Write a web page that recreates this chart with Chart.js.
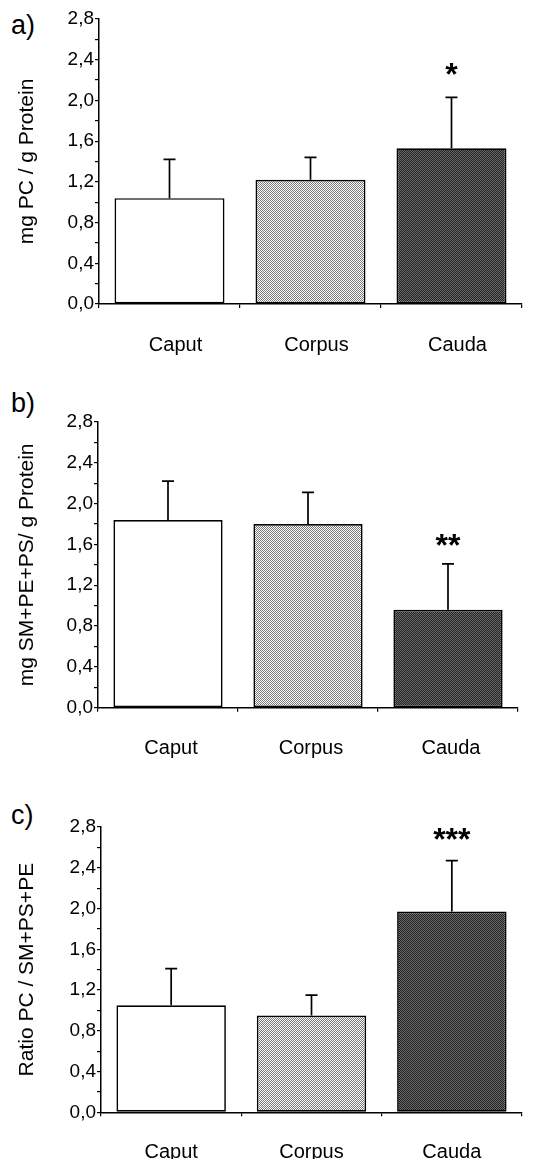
<!DOCTYPE html>
<html>
<head>
<meta charset="utf-8">
<script src="https://cdn.jsdelivr.net/npm/chart.js@4.4.1/dist/chart.umd.min.js"></script>
<style>
  body { margin: 0; background: #fff; width: 535px; height: 1159px; position: relative; overflow: hidden; }
  .panel { position: absolute; left: 0; }
  .tag { position: absolute; left: 11px; font: 27px "Liberation Sans", Arial, sans-serif; color: #000; line-height: 27px; }
</style>
</head>
<body>
<div class="tag" style="top:12px">a)</div>
<div class="tag" style="top:390px">b)</div>
<div class="tag" style="top:802px">c)</div>
<canvas id="chart-a" class="panel" width="535" height="370" style="top:0px"></canvas>
<canvas id="chart-b" class="panel" width="535" height="375" style="top:400px"></canvas>
<canvas id="chart-c" class="panel" width="535" height="354" style="top:805px"></canvas>
<script>
// داده‌ها
const categories = ['Caput', 'Corpus', 'Cauda'];

const pcMean = [1.04, 1.22, 1.53];
const pcSd = [0.38, 0.22, 0.50];
const pcSig = ['', '', '*'];

const smMean = [1.84, 1.80, 0.96];
const smSd = [0.38, 0.31, 0.45];
const smSig = ['', '', '**'];

const ratioMean = [1.05, 0.95, 1.97];
const ratioSd = [0.36, 0.20, 0.50];
const ratioSig = ['', '', '***'];

const yMax = 2.8;
const yStep = 0.2;

const FONT = '"Liberation Sans", Arial, sans-serif';

// الگوی نقطه‌ای برای میله‌ها
function dotPattern(c1, c2) {
    const tile = document.createElement('canvas');
    tile.width = 2; tile.height = 2;
    const t = tile.getContext('2d');
    t.fillStyle = c1; t.fillRect(0, 0, 2, 2);
    t.fillStyle = c2; t.fillRect(0, 0, 1, 1); t.fillRect(1, 1, 1, 1);
    return t.createPattern(tile, 'repeat');
}
const fills = ['#ffffff', dotPattern('#ffffff', '#777777'), dotPattern('#222222', '#6a6a6a')];

// خطای بالا + ستاره‌ها
const errorBars = {
    id: 'errorBars',
    afterDatasetsDraw(chart) {
        const { ctx, scales: { y } } = chart;
        const meta = chart.getDatasetMeta(0);
        const o = chart.options.plugins.errorBars;
        ctx.save();
        ctx.strokeStyle = '#000';
        ctx.lineWidth = 1.7;
        meta.data.forEach((bar, i) => {
            const top = y.getPixelForValue(o.mean[i] + o.sd[i]);
            ctx.beginPath();
            ctx.moveTo(bar.x, bar.y);
            ctx.lineTo(bar.x, top);
            ctx.moveTo(bar.x - 6, top);
            ctx.lineTo(bar.x + 6, top);
            ctx.stroke();
            if (o.sig[i]) {
                ctx.fillStyle = '#000';
                ctx.font = 'bold 32px ' + FONT;
                ctx.textAlign = 'center';
                ctx.textBaseline = 'alphabetic';
                ctx.fillText(o.sig[i], bar.x, top - o.gap);
            }
        });
        ctx.restore();
    }
};

function makeChart(id, mean, sd, sig, yTitle, geo) {
    const h = document.getElementById(id).height;
    return new Chart(document.getElementById(id), {
        type: 'bar',
        data: {
            labels: categories,
            datasets: [{
                data: mean,
                backgroundColor: fills,
                borderColor: '#000',
                borderWidth: 1.7,
                borderSkipped: false,
                barPercentage: 0.78,
                categoryPercentage: 1
            }]
        },
        options: {
            responsive: false,
            animation: false,
            events: [],
            layout: { padding: { top: geo.top, right: 535 - geo.right, left: 0, bottom: 0 } },
            plugins: {
                legend: { display: false },
                tooltip: { enabled: false },
                errorBars: { mean, sd, sig, gap: geo.gap }
            },
            scales: {
                x: {
                    grid: { offset: true, drawOnChartArea: false, tickLength: 4, color: '#000', lineWidth: 1.2 },
                    border: { color: '#000', width: 1.5 },
                    ticks: { font: { family: FONT, size: 20 }, color: '#000', padding: geo.labelPad, labelOffset: geo.labelOffset || 0 },
                    afterFit: s => { s.height = h - geo.bottom; }
                },
                y: {
                    min: 0,
                    max: yMax,
                    ticks: {
                        stepSize: yStep,
                        autoSkip: false,
                        color: '#000',
                        padding: 1,
                        font: { family: FONT, size: 19 },
                        callback: v => (Math.round(v * 10) % 4 === 0 ? v.toFixed(1).replace('.', ',') : '')
                    },
                    grid: { drawOnChartArea: false, tickLength: 4, color: '#000', lineWidth: 1.2 },
                    border: { color: '#000', width: 1.5 },
                    title: { display: true, text: yTitle, color: '#000', font: { family: FONT, size: 21 }, padding: { top: 15, bottom: 0 } },
                    afterFit: s => { s.width = geo.left; }
                }
            }
        },
        plugins: [errorBars]
    });
}

makeChart('chart-a', pcMean, pcSd, pcSig, 'mg PC / g Protein',
    { top: 19, bottom: 304, left: 99, right: 522, labelOffset: 6, labelPad: 25, gap: 12 });
makeChart('chart-b', smMean, smSd, smSig, 'mg SM+PE+PS/ g Protein',
    { top: 22, bottom: 307.7, left: 98, right: 518, labelOffset: 3, labelPad: 25, gap: 8 });
makeChart('chart-c', ratioMean, ratioSd, ratioSig, 'Ratio PC / SM+PS+PE',
    { top: 22, bottom: 307.3, left: 101, right: 522, labelPad: 24, gap: 11 });
</script>
</body>
</html>
